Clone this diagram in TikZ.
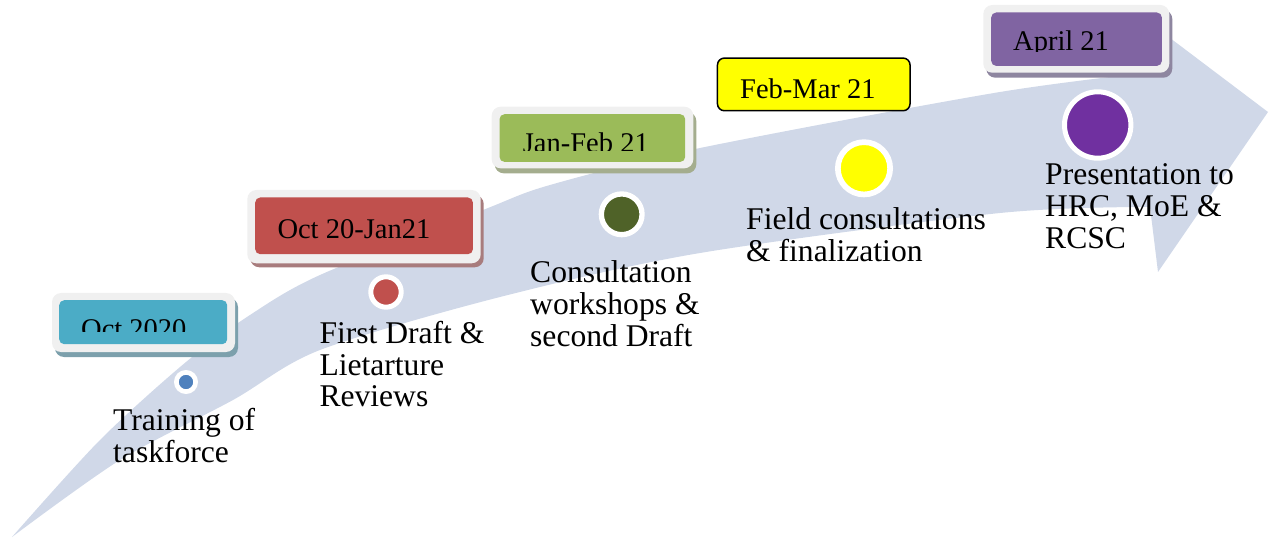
\documentclass[tikz,border=0pt]{standalone}
\usepackage{fontspec}
\setmainfont{Liberation Serif}
\definecolor{band}{HTML}{D0D8E8}
\definecolor{frame}{HTML}{F0F0F0}
\definecolor{cA}{HTML}{4BACC6}
\definecolor{cB}{HTML}{C0504D}
\definecolor{cC}{HTML}{9BBB59}
\definecolor{cE}{HTML}{8064A2}
\definecolor{sA}{HTML}{7CA0AC}
\definecolor{sB}{HTML}{A87C7D}
\definecolor{sC}{HTML}{A4AD8E}
\definecolor{sE}{HTML}{8E86A0}
\definecolor{dA}{HTML}{4F81BD}
\definecolor{dB}{HTML}{C0504D}
\definecolor{dC}{HTML}{4F6228}
\definecolor{dD}{HTML}{FFFF00}
\definecolor{dE}{HTML}{7030A0}
\tikzset{
  frm/.style={fill=frame, rounded corners=9pt},
  shd/.style={rounded corners=9pt},
  inbox/.style={rectangle, rounded corners=5pt, inner sep=0pt, anchor=north west},
  datetext/.style={anchor=base west, inner sep=0pt, font=\fontsize{28.5}{30}\selectfont},
  desc/.style={anchor=base west, align=left, inner sep=0pt, font=\fontsize{31.6}{31.7}\selectfont},
  dot/.style={circle, inner sep=0pt, draw=white}
}
\begin{document}
\begin{tikzpicture}[x=1pt,y=-1pt]
\useasboundingbox (0,0) rectangle (1270,540);
% curved arrow
\fill[band] plot[smooth] coordinates {(12,537) (100,440) (186,362) (250,315) (320,275) (483,210) (550,185) (700,148) (1000,92) (1172,70)}
  -- (1170,38) -- (1268,112) -- (1158,272)
  -- plot[smooth] coordinates {(1150,207) (1000,213) (700,253) (500,297) (320,350) (233,400) (120,460) (12,537)} -- cycle;

% box 1
\fill[shd, sA] (55,298) rectangle (238,357);
\fill[frm] (52,293) rectangle (235,352);
\node[inbox, fill=cA, minimum width=168pt, minimum height=44pt] (d1) at (59,300) {};
\begin{scope}
  \clip (59,300) rectangle (227,331.7);
  \node[datetext] (t1) at (81,338.9) {Oct 2020};
\end{scope}

% box 2
\fill[shd, sB] (250.3,195) rectangle (483.7,267.3);
\fill[frm] (247.3,190) rectangle (480.7,263.3);
\node[inbox, fill=cB, minimum width=217.7pt, minimum height=56.7pt] (d2) at (255,197.3) {};
\node[datetext] (t2) at (277.3,238.3) {Oct 20-Jan21};

% box 3
\fill[shd, sC] (494.7,112) rectangle (696.3,173.3);
\fill[frm] (491.7,106.7) rectangle (693.3,168.3);
\node[inbox, fill=cC, minimum width=185.7pt, minimum height=47.7pt] (d3) at (499.3,114) {};
\begin{scope}
  \clip (499.3,114) rectangle (685,150.7);
  \node[datetext] (t3) at (522.7,152.2) {Jan-Feb 21};
\end{scope}

% box 4
\node[inbox, fill=dD, draw=black, line width=1.5pt, rounded corners=7pt, minimum width=192.6pt, minimum height=52.7pt] (d4) at (716.7,57.3) {};
\node[datetext] (t4) at (740,98.3) {Feb-Mar 21};

% box 5
\fill[shd, sE] (986.3,10) rectangle (1172.3,77.7);
\fill[frm] (983.3,5) rectangle (1169.3,72.7);
\node[inbox, fill=cE, minimum width=170.7pt, minimum height=53.4pt] (d5) at (991,12.3) {};
\begin{scope}
  \clip (991,12.3) rectangle (1161.7,51.7);
  \node[datetext] (t5) at (1013,50.6) {April 21};
\end{scope}

% dots
\node[dot, fill=dA, line width=4.7pt, minimum size=19.3pt] (c1) at (186,382) {};
\node[dot, fill=dB, line width=5pt, minimum size=30.4pt] (c2) at (386,292) {};
\node[dot, fill=dC, line width=5.3pt, minimum size=40.7pt] (c3) at (621.7,214.3) {};
\node[dot, fill=dD, line width=5.7pt, minimum size=52.3pt] (c4) at (864,168.3) {};
\node[dot, fill=dE, line width=5pt, minimum size=66.4pt] (c5) at (1097.7,125) {};

% descriptions (anchored at the baseline of the last line)
\node[desc] (l1) at (113,462) {Training of\\taskforce};
\node[desc] (l2) at (319.3,406.7) {First Draft \&\\Lietarture\\Reviews};
\node[desc] (l3) at (530,346) {Consultation\\workshops \&\\second Draft};
\node[desc] (l4) at (746,261.7) {Field consultations\\\& finalization};
\node[desc] (l5) at (1045,248.3) {Presentation to\\HRC, MoE \&\\RCSC};
\end{tikzpicture}
\end{document}
